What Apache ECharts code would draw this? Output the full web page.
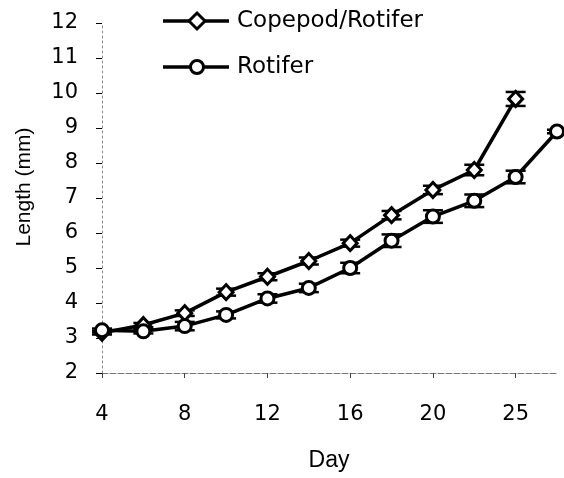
<!DOCTYPE html>
<html>
<head>
<meta charset="utf-8">
<script src="https://cdn.jsdelivr.net/npm/echarts@6/dist/echarts.min.js"></script>
<style>
  html, body { margin: 0; padding: 0; background: #fff; }
  #chart { width: 564px; height: 478px; }
</style>
</head>
<body>
<div id="chart"></div>
<script>
// Larval length by day for two feeding regimes (mean with error bars)
const days = ['4', '6', '8', '10', '12', '14', '16', '18', '20', '22', '25', '28'];
const copepodLength = [3.15, 3.37, 3.71, 4.31, 4.75, 5.2, 5.71, 6.51, 7.23, 7.8, 9.83];
const rotiferLength = [3.22, 3.19, 3.34, 3.66, 4.13, 4.43, 5.0, 5.78, 6.47, 6.92, 7.6, 8.9];
const copepodErr = [0.05, 0.06, 0.08, 0.1, 0.1, 0.1, 0.1, 0.12, 0.12, 0.15, 0.2];
const rotiferErr = [0.05, 0.06, 0.12, 0.1, 0.12, 0.12, 0.15, 0.18, 0.18, 0.18, 0.18, 0.05];
const yTicks = { min: 2, max: 12, step: 1 };
const seriesNames = ['Copepod/Rotifer', 'Rotifer'];

const labelFont = 'DejaVu Sans';
const titleFont = 'Liberation Sans';

function errorData(values, errs) {
  return values.map((v, i) => [i, v - errs[i], v + errs[i]]);
}

function renderErrorBar(params, api) {
  const x = api.coord([api.value(0), api.value(1)])[0];
  const lo = api.coord([api.value(0), api.value(1)])[1];
  const hi = api.coord([api.value(0), api.value(2)])[1];
  const half = 10;
  const style = { stroke: '#000', lineWidth: 2.5 };
  return {
    type: 'group',
    children: [
      { type: 'line', shape: { x1: x, y1: lo, x2: x, y2: hi }, style },
      { type: 'line', shape: { x1: x - half, y1: lo, x2: x + half, y2: lo }, style },
      { type: 'line', shape: { x1: x - half, y1: hi, x2: x + half, y2: hi }, style }
    ]
  };
}

// Hand-built key: a thick line with the series marker and its label
function legendEntry(name, markerShape, y) {
  const marker = markerShape === 'diamond'
    ? { type: 'polygon', shape: { points: [[197, y - 8], [205, y], [197, y + 8], [189, y]] } }
    : { type: 'circle', shape: { cx: 197, cy: y, r: 6.5 } };
  marker.style = { fill: '#fff', stroke: '#000', lineWidth: 3 };
  return [
    { type: 'line', shape: { x1: 163, y1: y, x2: 229, y2: y }, style: { stroke: '#000', lineWidth: 3.5 } },
    marker,
    {
      type: 'text', x: 237, y: y,
      style: { text: name, fontFamily: labelFont, fontSize: 23, fill: '#000', align: 'left', verticalAlign: 'middle' }
    }
  ];
}

const chart = echarts.init(document.getElementById('chart'), null, { renderer: 'canvas' });

const lineSeries = (name, data, symbol, size) => ({
  name,
  type: 'line',
  data,
  symbol,
  symbolSize: size,
  showAllSymbol: true,
  clip: false,
  z: 3,
  lineStyle: { color: '#000', width: 3.5 },
  itemStyle: { color: '#fff', borderColor: '#000', borderWidth: 3 },
  emphasis: { disabled: true }
});

chart.setOption({
  animation: false,
  backgroundColor: '#fff',
  grid: { left: 102, right: 7, top: 23, bottom: 105 },
  xAxis: {
    type: 'category',
    data: days,
    boundaryGap: false,
    axisLine: { show: true, lineStyle: { color: '#777', width: 1, type: [6, 2] } },
    axisTick: { show: true, length: 5, inside: false, lineStyle: { color: '#444', width: 1 } },
    axisLabel: {
      interval: 1,
      margin: 31,
      fontFamily: labelFont,
      fontSize: 21,
      color: '#000'
    },
    splitLine: { show: false }
  },
  yAxis: {
    type: 'value',
    min: yTicks.min,
    max: yTicks.max,
    interval: yTicks.step,
    axisLine: { show: true, lineStyle: { color: '#888', width: 1, type: [2, 3] } },
    axisTick: { show: true, length: 6, lineStyle: { color: '#000', width: 1 } },
    axisLabel: {
      margin: 24,
      fontFamily: labelFont,
      fontSize: 21,
      color: '#000'
    },
    splitLine: { show: false }
  },
  graphic: [
    ...legendEntry(seriesNames[0], 'diamond', 21),
    ...legendEntry(seriesNames[1], 'circle', 67),
    {
      type: 'text',
      x: 329,
      y: 461,
      style: {
        text: 'Day',
        fontFamily: titleFont,
        fontSize: 23,
        fill: '#000',
        align: 'center',
        verticalAlign: 'middle'
      }
    },
    {
      type: 'text',
      x: 24,
      y: 187,
      rotation: Math.PI / 2,
      style: {
        text: 'Length (mm)',
        fontFamily: titleFont,
        fontSize: 21,
        fill: '#000',
        align: 'center',
        verticalAlign: 'middle'
      }
    }
  ],
  series: [
    {
      type: 'custom',
      renderItem: renderErrorBar,
      data: errorData(copepodLength, copepodErr),
      encode: { x: 0, y: [1, 2] },
      clip: false,
      z: 2,
      silent: true
    },
    {
      type: 'custom',
      renderItem: renderErrorBar,
      data: errorData(rotiferLength, rotiferErr),
      encode: { x: 0, y: [1, 2] },
      clip: false,
      z: 2,
      silent: true
    },
    lineSeries(seriesNames[0], copepodLength, 'diamond', [14, 15]),
    lineSeries(seriesNames[1], rotiferLength, 'circle', 13)
  ]
});
</script>
</body>
</html>
